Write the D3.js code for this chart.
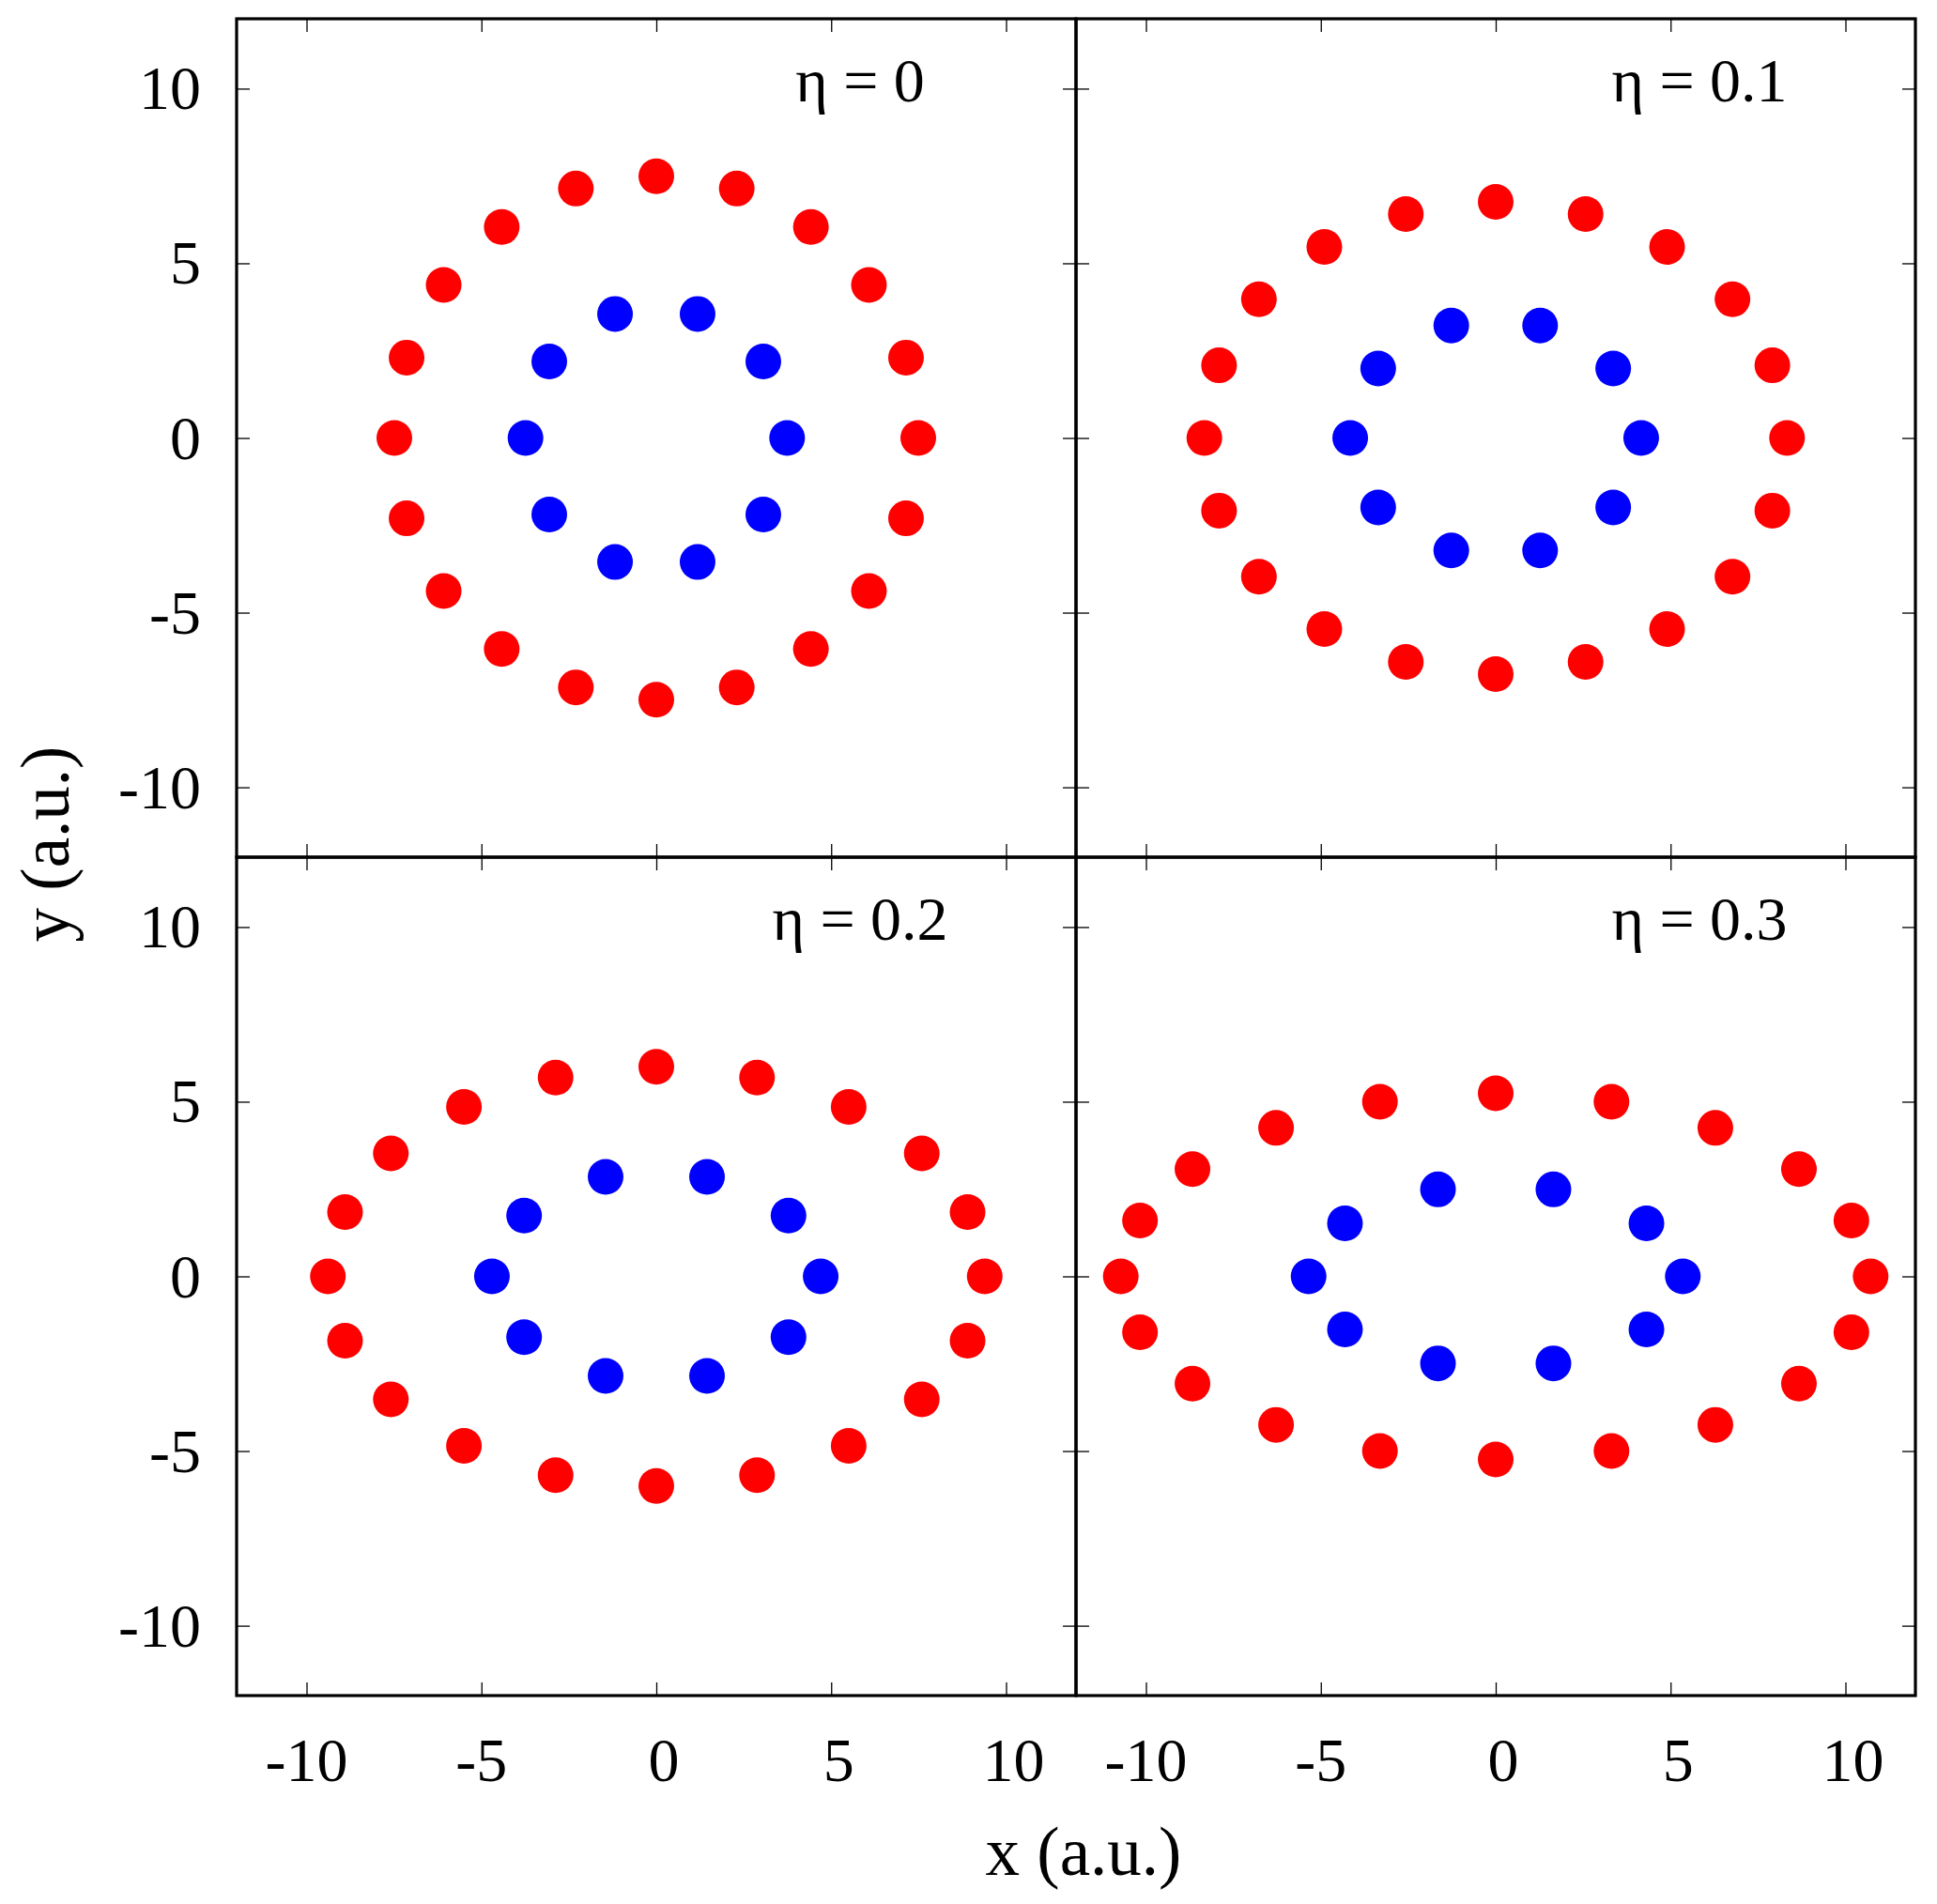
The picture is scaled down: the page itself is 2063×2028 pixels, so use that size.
<!DOCTYPE html>
<html>
<head>
<meta charset="utf-8">
<script src="https://cdn.jsdelivr.net/npm/d3@7"></script>
<style>
  html, body { margin: 0; padding: 0; background: #fff; }
  svg { display: block; }
  text { font-family: "Liberation Serif", "Times New Roman", serif; fill: #000; }
</style>
</head>
<body>
<svg id="chart" width="2063" height="2028"></svg>
<script>
// ---------------- data ----------------
const etaLabels = ["η = 0", "η = 0.1", "η = 0.2", "η = 0.3"];
const xTicks = [-10, -5, 0, 5, 10];
const yTicks = [-10, -5, 0, 5, 10];
const xTickLabels = ["-10", "-5", "0", "5", "10"];
const yTickLabels = ["-10", "-5", "0", "5", "10"];
const xLabel = "x (a.u.)";
const yLabel = "y (a.u.)";

// outer ring (red) per panel
const redEta0 = [
  [0, 7.49], [2.30, 7.14], [4.42, 6.04], [6.08, 4.38], [7.14, 2.30], [7.49, 0],
  [7.14, -2.30], [6.08, -4.38], [4.42, -6.04], [2.30, -7.14], [0, -7.49],
  [-2.30, -7.14], [-4.42, -6.04], [-6.08, -4.38], [-7.14, -2.30], [-7.49, 0],
  [-7.14, 2.30], [-6.08, 4.38], [-4.42, 6.04], [-2.30, 7.14]
];
const redEta01 = [
  [0, 6.76], [2.57, 6.41], [4.90, 5.47], [6.77, 3.97], [7.91, 2.08], [8.33, 0],
  [7.91, -2.08], [6.77, -3.97], [4.90, -5.47], [2.57, -6.41], [0, -6.76],
  [-2.57, -6.41], [-4.90, -5.47], [-6.77, -3.97], [-7.91, -2.08], [-8.33, 0],
  [-7.91, 2.08], [-6.77, 3.97], [-4.90, 5.47], [-2.57, 6.41]
];
const redEta02 = [
  [0, 6.00], [2.88, 5.69], [5.50, 4.85], [7.59, 3.52], [8.90, 1.84], [9.39, 0],
  [8.90, -1.84], [7.59, -3.52], [5.50, -4.85], [2.88, -5.69], [0, -6.00],
  [-2.88, -5.69], [-5.50, -4.85], [-7.59, -3.52], [-8.90, -1.84], [-9.39, 0],
  [-8.90, 1.84], [-7.59, 3.52], [-5.50, 4.85], [-2.88, 5.69]
];
const redEta03 = [
  [0, 5.24], [3.31, 5.00], [6.28, 4.25], [8.67, 3.07], [10.17, 1.60], [10.72, 0],
  [10.17, -1.60], [8.67, -3.07], [6.28, -4.25], [3.31, -5.00], [0, -5.24],
  [-3.31, -5.00], [-6.28, -4.25], [-8.67, -3.07], [-10.17, -1.60], [-10.72, 0],
  [-10.17, 1.60], [-8.67, 3.07], [-6.28, 4.25], [-3.31, 5.00]
];

// inner ring (blue) per panel
const blueEta0 = [
  [3.74, 0], [3.06, 2.19], [1.18, 3.55], [-1.18, 3.55], [-3.06, 2.19],
  [-3.74, 0], [-3.06, -2.19], [-1.18, -3.55], [1.18, -3.55], [3.06, -2.19]
];
const blueEta01 = [
  [4.16, 0], [3.36, 1.99], [1.27, 3.22], [-1.27, 3.22], [-3.36, 1.99],
  [-4.16, 0], [-3.36, -1.99], [-1.27, -3.22], [1.27, -3.22], [3.36, -1.99]
];
const blueEta02 = [
  [4.70, 0], [3.78, 1.74], [1.45, 2.85], [-1.45, 2.85], [-3.78, 1.74],
  [-4.70, 0], [-3.78, -1.74], [-1.45, -2.85], [1.45, -2.85], [3.78, -1.74]
];
const blueEta03 = [
  [5.35, 0], [4.31, 1.52], [1.65, 2.49], [-1.65, 2.49], [-4.31, 1.52],
  [-5.35, 0], [-4.31, -1.52], [-1.65, -2.49], [1.65, -2.49], [4.31, -1.52]
];

const redSets = [redEta0, redEta01, redEta02, redEta03];
const blueSets = [blueEta0, blueEta01, blueEta02, blueEta03];

// ---------------- layout ----------------
const svg = d3.select("#chart");
const left0 = 252, top0 = 20, panelW = 894, panelH = 893;
const tickLen = 14;
const fontTick = 66, fontLabel = 73;

for (let i = 0; i < 4; i++) {
  const col = i % 2, row = Math.floor(i / 2);
  const px = left0 + col * panelW, py = top0 + row * panelH;
  const x = d3.scaleLinear().domain([-12, 12]).range([px, px + panelW]);
  const y = d3.scaleLinear().domain([-12, 12]).range([py + panelH, py]);
  const g = svg.append("g");

  const styleTicks = a => {
    a.select(".domain").remove();
    a.selectAll("line").attr("stroke", "#000").attr("stroke-width", 1.3);
  };
  // ticks (mirrored on all sides, pointing inward)
  g.append("g").attr("transform", `translate(0,${py + panelH})`)
    .call(d3.axisBottom(x).tickValues(xTicks).tickSize(-tickLen).tickFormat("")).call(styleTicks);
  g.append("g").attr("transform", `translate(0,${py})`)
    .call(d3.axisTop(x).tickValues(xTicks).tickSize(-tickLen).tickFormat("")).call(styleTicks);
  g.append("g").attr("transform", `translate(${px},0)`)
    .call(d3.axisLeft(y).tickValues(yTicks).tickSize(-tickLen).tickFormat("")).call(styleTicks);
  g.append("g").attr("transform", `translate(${px + panelW},0)`)
    .call(d3.axisRight(y).tickValues(yTicks).tickSize(-tickLen).tickFormat("")).call(styleTicks);

  // points
  g.selectAll("circle.red").data(redSets[i]).join("circle")
    .attr("class", "red")
    .attr("cx", d => x(d[0])).attr("cy", d => y(d[1])).attr("r", 19)
    .attr("fill", "#ff0000");
  g.selectAll("circle.blue").data(blueSets[i]).join("circle")
    .attr("class", "blue")
    .attr("cx", d => x(d[0])).attr("cy", d => y(d[1])).attr("r", 19)
    .attr("fill", "#0000ff");

  // border
  g.append("rect").attr("x", px).attr("y", py).attr("width", panelW).attr("height", panelH)
    .attr("fill", "none").attr("stroke", "#000").attr("stroke-width", 3.2);

  // eta label
  g.append("text").attr("x", px + 664).attr("y", py + 88)
    .attr("text-anchor", "middle").attr("font-size", fontTick).text(etaLabels[i]);

  // tick labels
  if (col === 0) {
    g.selectAll("text.yt").data(yTicks).join("text").attr("class", "yt")
      .attr("x", px - 38).attr("y", d => y(d) + 22)
      .attr("text-anchor", "end").attr("font-size", fontTick)
      .text((d, k) => yTickLabels[k]);
  }
  if (row === 1) {
    g.selectAll("text.xt").data(xTicks).join("text").attr("class", "xt")
      .attr("x", d => x(d) + (d >= 0 ? 8 : 0)).attr("y", py + panelH + 91)
      .attr("text-anchor", "middle").attr("font-size", fontTick)
      .text((d, k) => xTickLabels[k]);
  }
}

// axis labels
svg.append("text").attr("x", 1154).attr("y", 1997)
  .attr("text-anchor", "middle").attr("font-size", fontLabel).text(xLabel);
svg.append("text").attr("transform", "translate(73,899) rotate(-90)")
  .attr("text-anchor", "middle").attr("font-size", fontLabel).text(yLabel);
</script>
</body>
</html>
